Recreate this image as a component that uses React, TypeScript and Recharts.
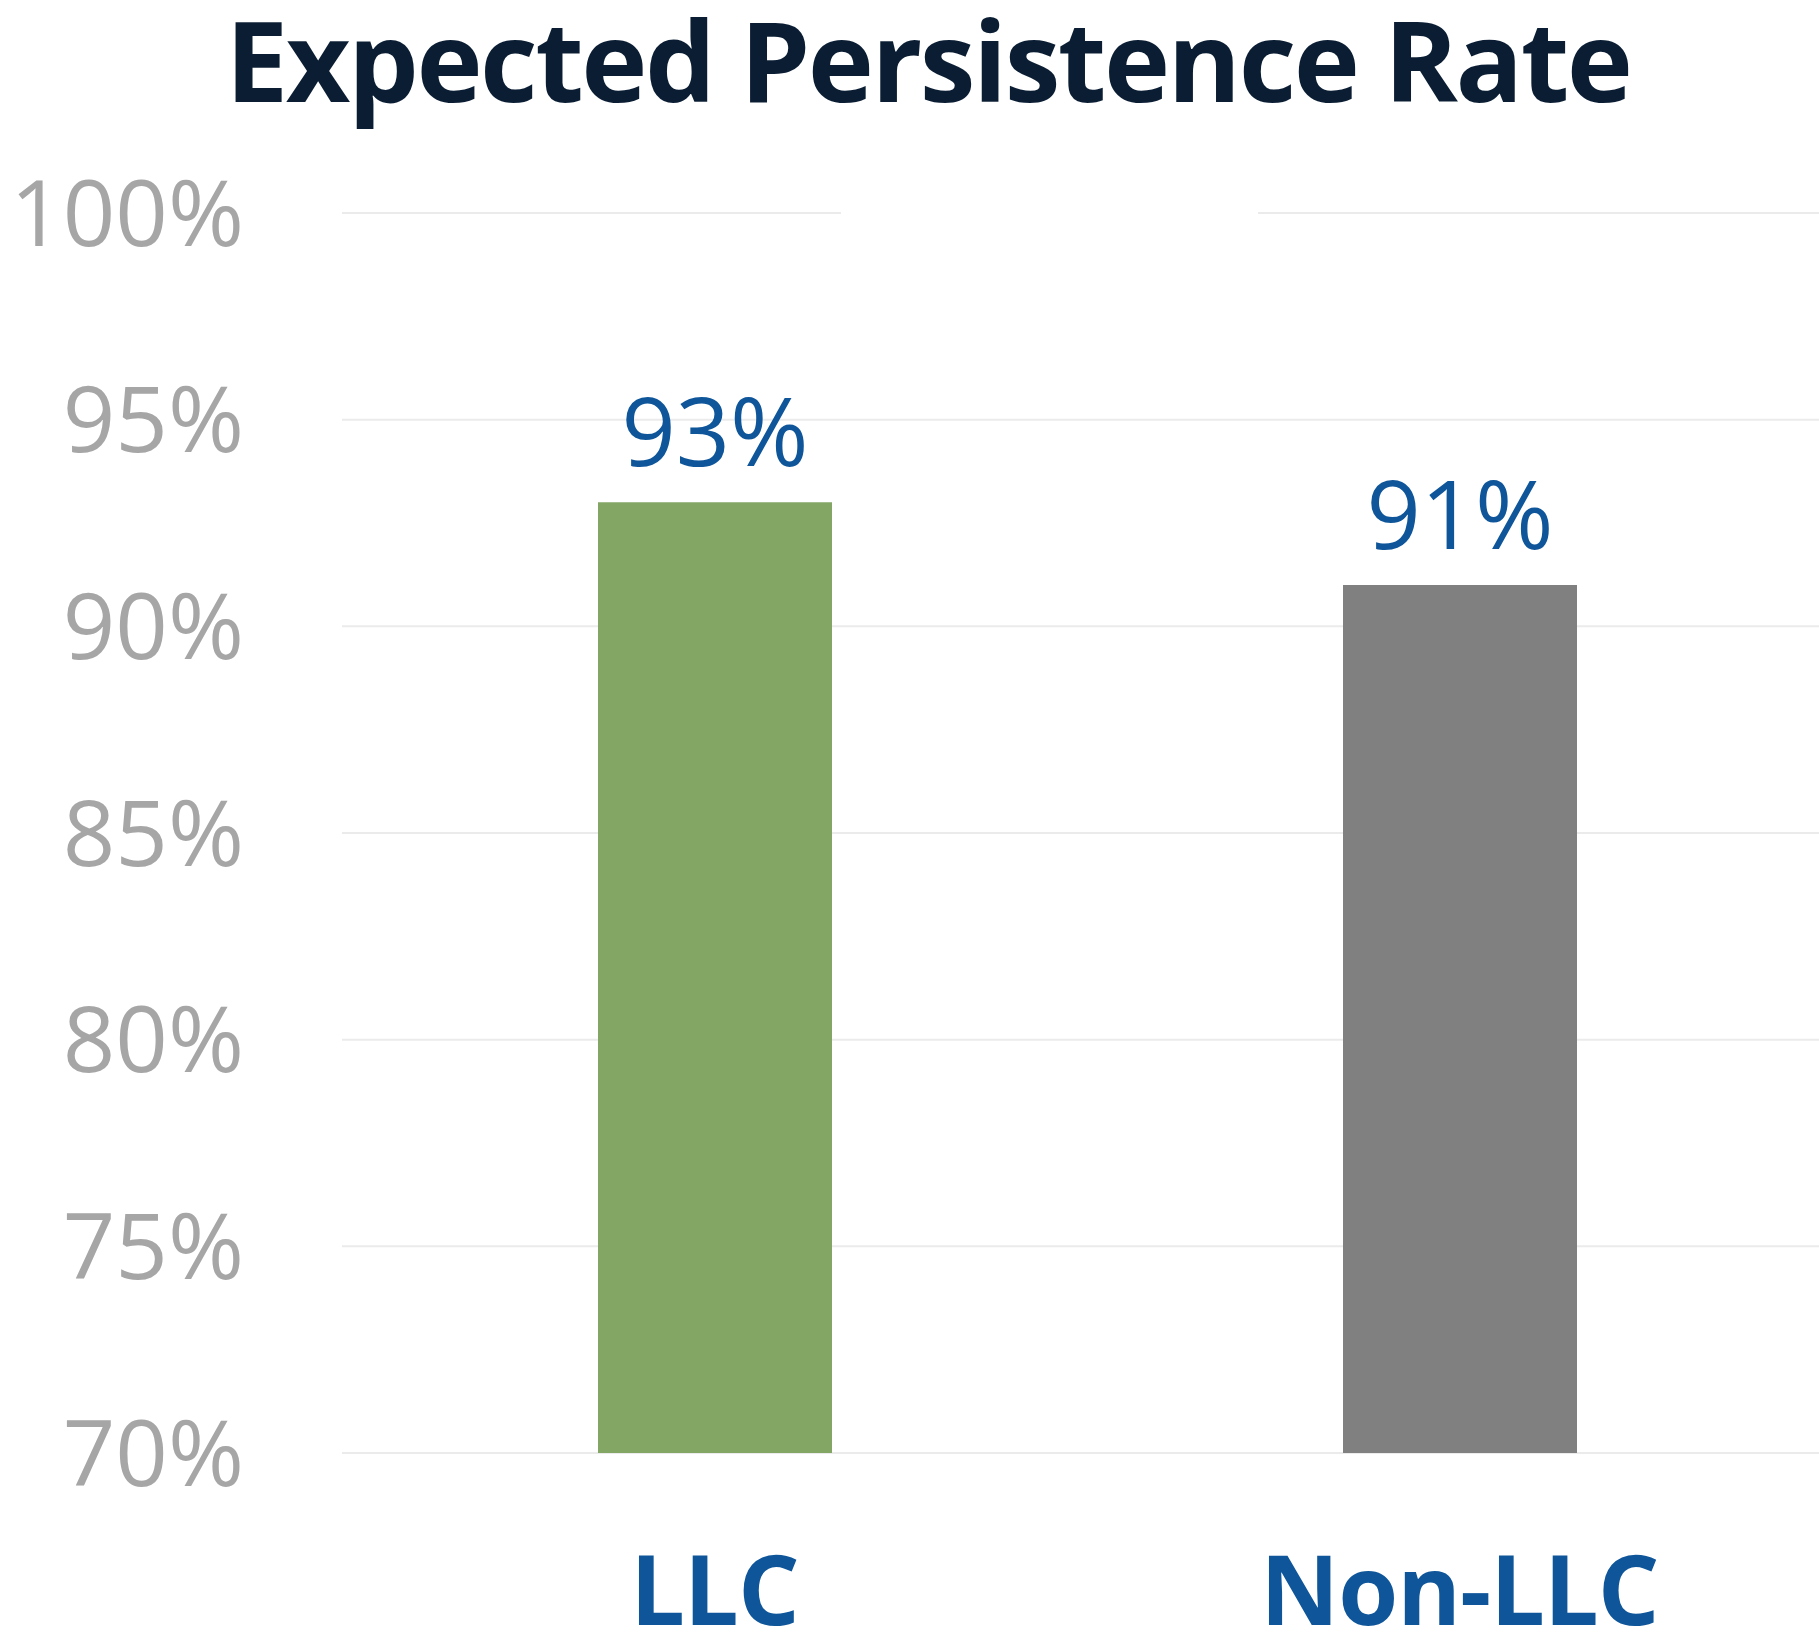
import { BarChart, Bar, XAxis, YAxis, CartesianGrid, Cell, LabelList } from "recharts";

// Segoe-ish look with the fonts we have
const FONT = "'Open Sans', 'Noto Sans', sans-serif";
const NAVY = "#0A1D33";
const BLUE = "#0E5599";
const TICK = "#A6A6A6";
const GRID = "#EBEBEB";

const categories = ["LLC", "Non-LLC"];
const rates = [93, 91];
const barColors = ["#83A664", "#808080"];
const yTicks = [70, 75, 80, 85, 90, 95, 100];

const data = categories.map((name, i) => ({ name, rate: rates[i] }));

export default function App() {
  return (
    <div
      style={{
        position: "absolute",
        left: 0,
        top: 0,
        width: 1819,
        height: 1635,
        overflow: "hidden",
        background: "#fff",
        fontFamily: FONT,
      }}
    >
      <div
        style={{
          position: "absolute",
          left: 37,
          top: 3,
          width: 1782,
          textAlign: "center",
          fontSize: 112,
          lineHeight: 1,
          fontWeight: 700,
          letterSpacing: -2.5,
          color: NAVY,
          whiteSpace: "nowrap",
        }}
      >
        Expected Persistence Rate
      </div>
      <div style={{ position: "absolute", top: 0, left: 0 }}>
        <BarChart width={1832} height={1635} data={data} margin={{ top: 213, right: 0, bottom: 0, left: 0 }}>
          <CartesianGrid vertical={false} stroke={GRID} strokeWidth={2} />
          <XAxis
            dataKey="name"
            height={182}
            axisLine={false}
            tickLine={false}
            tickSize={0}
            tickMargin={103}
            tick={{ fontSize: 97, fontWeight: 700, fill: BLUE, fontFamily: FONT, letterSpacing: -1 }}
          />
          <YAxis
            domain={[70, 100]}
            ticks={yTicks}
            width={342}
            axisLine={false}
            tickLine={false}
            tickSize={0}
            tickMargin={98}
            tickFormatter={(v) => `${v}%`}
            tick={{ fontSize: 92, fill: TICK, fontFamily: FONT }}
          />
          <Bar dataKey="rate" barSize={234} isAnimationActive={false}>
            {data.map((_, i) => (
              <Cell key={i} fill={barColors[i]} />
            ))}
            <LabelList
              dataKey="rate"
              position="top"
              offset={36}
              formatter={(v: number) => `${v}%`}
              style={{ fontSize: 95, fill: BLUE, fontFamily: FONT }}
            />
          </Bar>
        </BarChart>
      </div>
      {/* the top gridline is broken in the middle in the original */}
      <div style={{ position: "absolute", left: 841, top: 209, width: 417, height: 8, background: "#fff" }} />
    </div>
  );
}
